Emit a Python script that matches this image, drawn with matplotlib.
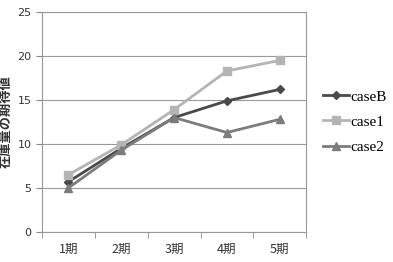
import matplotlib

matplotlib.use("Agg")
import matplotlib.pyplot as plt

periods = ["1期", "2期", "3期", "4期", "5期"]
case_b = [5.7, 9.5, 13.0, 14.9, 16.2]
case_1 = [6.5, 9.9, 13.9, 18.3, 19.5]
case_2 = [5.0, 9.3, 13.0, 11.3, 12.8]
series_names = ["caseB", "case1", "case2"]

jp = ["Noto Sans CJK JP", "DejaVu Sans"]
fig = plt.figure(figsize=(3.93, 2.62), dpi=100)
ax = fig.add_axes([0.107, 0.115, 0.672, 0.839])

xs = range(len(periods))
ax.plot(xs, case_b, color="#4a4a4a", marker="D", markersize=4, linewidth=2, label=series_names[0])
ax.plot(xs, case_1, color="#b4b4b4", marker="s", markersize=6, linewidth=2, label=series_names[1])
ax.plot(xs, case_2, color="#7c7c7c", marker="^", markersize=6, linewidth=2, label=series_names[2])

ax.set_xlim(-0.5, len(periods) - 0.5)
ax.set_ylim(0, 25)
ax.set_yticks(range(0, 26, 5))
ax.set_xticks(list(xs))
ax.set_xticklabels(periods, family=jp, fontsize=9, color="#333333")
ax.set_xticks([i - 0.5 for i in range(len(periods) + 1)], minor=True)
ax.tick_params(axis="x", which="major", length=0, pad=8)
ax.tick_params(axis="x", which="minor", length=4, color="#888888")
ax.tick_params(axis="y", length=4, color="#888888", labelsize=8, labelcolor="#333333")
ax.grid(axis="y", color="#999999", linewidth=0.8)
ax.set_axisbelow(True)
for s in ax.spines.values():
    s.set_color("#999999")
    s.set_linewidth(0.8)
ax.set_ylabel("在庫量の期待値", family=jp, fontsize=9.5, fontweight="bold", color="#333333")
ax.yaxis.set_label_coords(-0.11, 0.5)

ax.legend(loc="center left", bbox_to_anchor=(1.01, 0.5), frameon=False,
          prop={"family": "Liberation Serif", "size": 11}, handlelength=1.7,
          handletextpad=0.1, labelspacing=0.75)

fig.savefig("out.png", dpi=100)
